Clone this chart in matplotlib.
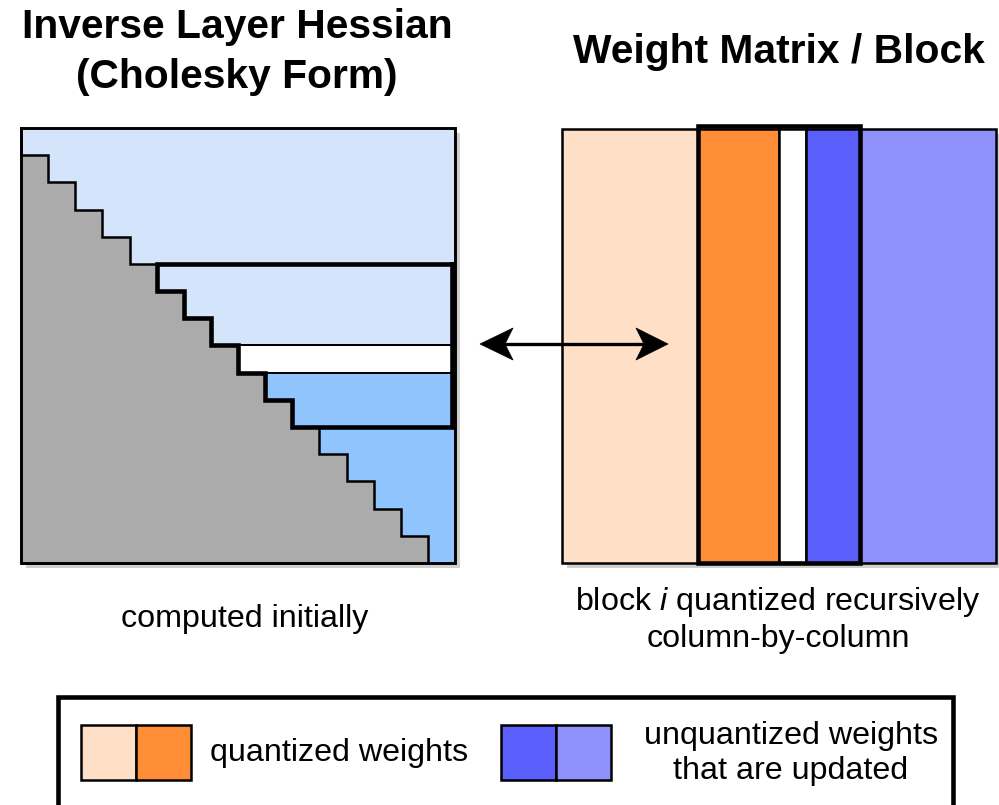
import matplotlib
matplotlib.use("Agg")
import matplotlib.pyplot as plt
from matplotlib.patches import Rectangle, Polygon
from matplotlib.transforms import Affine2D

plt.rcParams['font.family'] = ['Liberation Sans', 'DejaVu Sans']
plt.rcParams['mathtext.fontset'] = 'custom'
plt.rcParams['mathtext.rm'] = 'Liberation Sans'
plt.rcParams['mathtext.it'] = 'Liberation Sans:italic'

# ---- data (grid structure of the diagram) ----
n_cols = 16                 # columns / rows of the matrices
block_start = 5             # first column of block i
block_end = 11              # end (exclusive) of block i
current_col = 8             # column being quantized
title_left = ["Inverse Layer Hessian", "(Cholesky Form)"]
title_right = "Weight Matrix / Block"
caption_left = "computed initially"
caption_right = [r"block $\mathit{i}$ quantized recursively", "column-by-column"]
legend_labels = ["quantized weights", "unquantized weights", "that are updated"]

# colours
C_GRAY = "#ABABAB"
C_LBLUE = "#D4E4FB"
C_MBLUE = "#90C4FE"
C_PEACH = "#FFE0C7"
C_ORANGE = "#FF8D36"
C_BLUE = "#5A5EFA"
C_LAV = "#8F91FA"
C_SHADOW = "#CFCFCF"

fig = plt.figure(figsize=(9.99, 8.05), dpi=100)
ax = fig.add_axes([0, 0, 1, 1])
ax.set_xlim(0, 999)
ax.set_ylim(805, 0)
ax.axis('off')

THIN = 1.8
THICK = 3.3
TFS = 29.3   # title font size
CFS = 23.2   # caption font size

# ---------------- left matrix ----------------
LX0, LY0, LX1, LY1 = 21, 128, 455, 563
tl = Affine2D().scale((LX1 - LX0) / n_cols, (LY1 - LY0) / n_cols).translate(LX0, LY0) + ax.transData

ax.add_patch(Rectangle((LX0 + 5, LY0 + 5), LX1 - LX0, LY1 - LY0, facecolor=C_SHADOW, edgecolor='none', zorder=0))

for i in range(n_cols):
    if i < current_col:
        col = C_LBLUE
    elif i == current_col:
        col = "white"
    else:
        col = C_MBLUE
    if i > 0:
        ax.add_patch(Rectangle((0, i), i, 1, facecolor=C_GRAY, edgecolor='none', transform=tl, zorder=1))
    ax.add_patch(Rectangle((i, i), n_cols - i, 1, facecolor=col, edgecolor='none', transform=tl, zorder=1))

# staircase
sx, sy = [0], [0]
for i in range(n_cols):
    sx += [i, i + 1]
    sy += [i + 1, i + 1]
ax.plot(sx[:-1], sy[:-1], color='black', lw=THIN, transform=tl, zorder=3, solid_joinstyle='miter')
# white row edges
for r in (current_col, current_col + 1):
    ax.plot([r, n_cols], [r, r], color='black', lw=THIN * 0.8, transform=tl, zorder=3)
# outer border
ax.add_patch(Rectangle((0, 0), n_cols, n_cols, facecolor='none', edgecolor='black', lw=THIN + 0.3, transform=tl, zorder=4))
# thick block outline
bx = [n_cols - 0.1, block_start]
by = [block_start, block_start]
for i in range(block_start, block_end):
    bx += [i, i + 1]
    by += [i + 1, i + 1]
bx[-1] = n_cols - 0.1
bx.append(n_cols - 0.1)
by.append(block_start)
ax.plot(bx, by, color='black', lw=THICK, transform=tl, zorder=5, solid_joinstyle='miter', solid_capstyle='projecting')

# ---------------- right matrix ----------------
RX0, RY0, RX1, RY1 = 562, 129, 996, 563
tr = Affine2D().scale((RX1 - RX0) / n_cols, (RY1 - RY0)).translate(RX0, RY0) + ax.transData
ax.add_patch(Rectangle((RX0 + 5, RY0 + 5), RX1 - RX0, RY1 - RY0, facecolor=C_SHADOW, edgecolor='none', zorder=0))
segments = [
    (0, block_start, C_PEACH),
    (block_start, current_col, C_ORANGE),
    (current_col, current_col + 1, "white"),
    (current_col + 1, block_end, C_BLUE),
    (block_end, n_cols, C_LAV),
]
for a, b, c in segments:
    ax.add_patch(Rectangle((a, 0), b - a, 1, facecolor=c, edgecolor='black', lw=THIN, transform=tr, zorder=1))
ax.add_patch(Rectangle((block_start, -0.008), block_end - block_start, 1.008, facecolor='none',
                       edgecolor='black', lw=THICK, transform=tr, zorder=5))

# ---------------- arrow ----------------
ay = 344
ax.plot([495, 655], [ay, ay], color='black', lw=2.4, zorder=6)
ax.add_patch(Polygon([(480, ay), (513, ay - 16), (505, ay), (513, ay + 16)], closed=True, facecolor='black', edgecolor='black', lw=0.5, zorder=6))
ax.add_patch(Polygon([(668, ay), (636, ay - 16), (644, ay), (636, ay + 16)], closed=True, facecolor='black', edgecolor='black', lw=0.5, zorder=6))

# ---------------- titles / captions ----------------
ax.text(237, 38, title_left[0], ha='center', va='baseline', fontsize=TFS, fontweight='bold')
ax.text(237, 88, title_left[1], ha='center', va='baseline', fontsize=TFS, fontweight='bold')
ax.text(779, 63, title_right, ha='center', va='baseline', fontsize=TFS, fontweight='bold')
ax.text(245, 627, caption_left, ha='center', va='baseline', fontsize=CFS)
ax.text(778, 610, caption_right[0], ha='center', va='baseline', fontsize=CFS)
ax.text(778, 647, caption_right[1], ha='center', va='baseline', fontsize=CFS)

# ---------------- legend ----------------
ax.add_patch(Rectangle((58, 697), 895, 115, facecolor='white', edgecolor='black', lw=THICK, zorder=1))
sw_y, sw_h = 725, 55
for x0, c in ((81, C_PEACH), (136, C_ORANGE), (501, C_BLUE), (556, C_LAV)):
    ax.add_patch(Rectangle((x0, sw_y), 55, sw_h, facecolor=c, edgecolor='black', lw=THIN, zorder=2))
ax.text(210, 761, legend_labels[0], ha='left', va='baseline', fontsize=CFS)
ax.text(791, 744, legend_labels[1], ha='center', va='baseline', fontsize=CFS)
ax.text(791, 779, legend_labels[2], ha='center', va='baseline', fontsize=CFS)

fig.savefig("out.png", dpi=100)
